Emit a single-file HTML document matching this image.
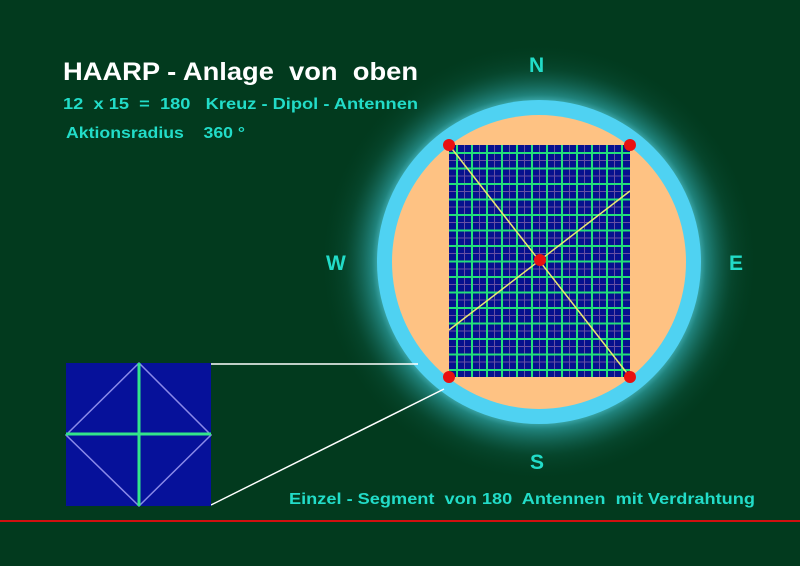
<!DOCTYPE html>
<html><head><style>
body{margin:0;background:#023a1e;}
svg{display:block}
text{font-family:"Liberation Sans",sans-serif;font-weight:bold;white-space:pre}
</style></head><body>
<svg width="800" height="566" viewBox="0 0 800 566">
<defs>
<radialGradient id="g" cx="539" cy="262" r="220" gradientUnits="userSpaceOnUse">
<stop offset="0.7" stop-color="#5fd8e8" stop-opacity="1"/>
<stop offset="0.76" stop-color="#2a9a9a" stop-opacity="0.75"/>
<stop offset="0.88" stop-color="#0d5a45" stop-opacity="0.35"/>
<stop offset="1" stop-color="#023a1e" stop-opacity="0"/>
</radialGradient>
</defs>
<rect width="800" height="566" fill="#023a1e"/>
<circle cx="539" cy="262" r="220" fill="url(#g)"/>
<circle cx="539" cy="262" r="162" fill="#4fd2f2"/>
<circle cx="539" cy="262" r="147" fill="#fec283"/>
<rect x="449" y="145" width="181" height="232" fill="#06118e"/>
<g stroke="#c890b8" stroke-width="1" opacity="0.5">
<line x1="464.5" y1="145" x2="464.5" y2="377"/><line x1="479.5" y1="145" x2="479.5" y2="377"/><line x1="494.5" y1="145" x2="494.5" y2="377"/><line x1="509.5" y1="145" x2="509.5" y2="377"/><line x1="524.5" y1="145" x2="524.5" y2="377"/><line x1="539.5" y1="145" x2="539.5" y2="377"/><line x1="554.5" y1="145" x2="554.5" y2="377"/><line x1="569.5" y1="145" x2="569.5" y2="377"/><line x1="584.5" y1="145" x2="584.5" y2="377"/><line x1="599.5" y1="145" x2="599.5" y2="377"/><line x1="614.5" y1="145" x2="614.5" y2="377"/>
<line x1="449" y1="160.5" x2="630" y2="160.5"/><line x1="449" y1="176" x2="630" y2="176"/><line x1="449" y1="191.5" x2="630" y2="191.5"/><line x1="449" y1="207" x2="630" y2="207"/><line x1="449" y1="222.5" x2="630" y2="222.5"/><line x1="449" y1="238" x2="630" y2="238"/><line x1="449" y1="253.5" x2="630" y2="253.5"/><line x1="449" y1="269" x2="630" y2="269"/><line x1="449" y1="284.5" x2="630" y2="284.5"/><line x1="449" y1="300" x2="630" y2="300"/><line x1="449" y1="315.5" x2="630" y2="315.5"/><line x1="449" y1="331" x2="630" y2="331"/><line x1="449" y1="346.5" x2="630" y2="346.5"/><line x1="449" y1="362" x2="630" y2="362"/>
</g>
<g stroke="#22e07a" stroke-width="2">
<line x1="457" y1="145" x2="457" y2="377"/><line x1="472" y1="145" x2="472" y2="377"/><line x1="487" y1="145" x2="487" y2="377"/><line x1="502" y1="145" x2="502" y2="377"/><line x1="517" y1="145" x2="517" y2="377"/><line x1="532" y1="145" x2="532" y2="377"/><line x1="547" y1="145" x2="547" y2="377"/><line x1="562" y1="145" x2="562" y2="377"/><line x1="577" y1="145" x2="577" y2="377"/><line x1="592" y1="145" x2="592" y2="377"/><line x1="607" y1="145" x2="607" y2="377"/><line x1="622" y1="145" x2="622" y2="377"/>
<line x1="449" y1="153" x2="630" y2="153"/><line x1="449" y1="168.5" x2="630" y2="168.5"/><line x1="449" y1="184" x2="630" y2="184"/><line x1="449" y1="199.5" x2="630" y2="199.5"/><line x1="449" y1="215" x2="630" y2="215"/><line x1="449" y1="230.5" x2="630" y2="230.5"/><line x1="449" y1="246" x2="630" y2="246"/><line x1="449" y1="261.5" x2="630" y2="261.5"/><line x1="449" y1="277" x2="630" y2="277"/><line x1="449" y1="292.5" x2="630" y2="292.5"/><line x1="449" y1="308" x2="630" y2="308"/><line x1="449" y1="323.5" x2="630" y2="323.5"/><line x1="449" y1="339" x2="630" y2="339"/><line x1="449" y1="354.5" x2="630" y2="354.5"/><line x1="449" y1="370" x2="630" y2="370"/>
</g>
<g stroke="#e8e870" stroke-width="1.5">
<line x1="449" y1="145" x2="630" y2="377"/>
<line x1="449" y1="330" x2="630" y2="191"/>
</g>
<g fill="#e81010">
<circle cx="449" cy="145" r="6"/><circle cx="630" cy="145" r="6"/><circle cx="449" cy="377" r="6"/><circle cx="630" cy="377" r="6"/><circle cx="540" cy="260" r="6"/>
</g>
<g stroke="#ffffff" stroke-width="1.5">
<line x1="211" y1="364" x2="418" y2="364"/>
<line x1="211" y1="505" x2="444" y2="389"/>
</g>
<rect x="66" y="363" width="145" height="143" fill="#06119a"/>
<polygon points="139,363 211,435 139,506 66,435" fill="none" stroke="#8a8ae8" stroke-width="1.5"/>
<g stroke="#33e68a" stroke-width="3">
<line x1="139" y1="363" x2="139" y2="506"/>
<line x1="66" y1="434" x2="211" y2="434"/>
</g>
<line x1="0" y1="521" x2="800" y2="521" stroke="#d01010" stroke-width="2"/>
<text x="63" y="80" font-size="25" fill="#ffffff" textLength="355" lengthAdjust="spacingAndGlyphs">HAARP - Anlage  von  oben</text>
<text x="63" y="109" font-size="16" fill="#22dcc8" textLength="355" lengthAdjust="spacingAndGlyphs">12  x 15  =  180   Kreuz - Dipol - Antennen</text>
<text x="66" y="138" font-size="16" fill="#22dcc8" textLength="179" lengthAdjust="spacingAndGlyphs">Aktionsradius    360 °</text>
<text x="529" y="72" font-size="21" fill="#22dcc8">N</text>
<text x="326" y="270" font-size="21" fill="#22dcc8">W</text>
<text x="729" y="270" font-size="21" fill="#22dcc8">E</text>
<text x="530" y="469" font-size="21" fill="#22dcc8">S</text>
<text x="289" y="504" font-size="16" fill="#22dcc8" textLength="466" lengthAdjust="spacingAndGlyphs">Einzel - Segment  von 180  Antennen  mit Verdrahtung</text>
</svg>
</body></html>
